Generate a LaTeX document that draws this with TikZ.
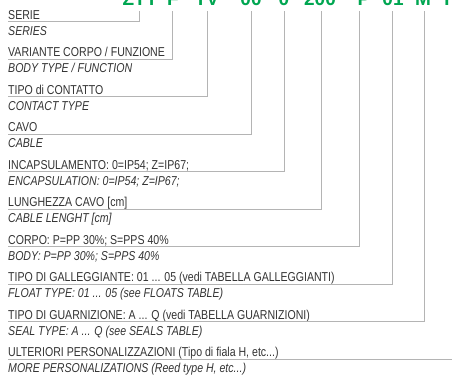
\documentclass[tikz,border=0pt]{standalone}
\usepackage{fontspec}
\setmainfont{Liberation Sans}[FakeStretch=0.82]
\newfontfamily\codefont{Liberation Sans}
\usetikzlibrary{positioning}
\definecolor{codegreen}{HTML}{00A651}
\definecolor{labelgray}{HTML}{333333}
\definecolor{linegray}{HTML}{B4B4B4}

\begin{document}
\begin{tikzpicture}[x=1pt, y=-1pt,
  it/.style={anchor=south west, inner xsep=0pt, inner ysep=2.5pt, text depth=0pt,
    text=labelgray, font=\fontsize{12.9}{14}\selectfont},
  en/.style={anchor=base west, inner sep=0pt, text=labelgray,
    font=\fontsize{12.9}{14}\selectfont\itshape},
  code/.style={anchor=base, inner xsep=0pt, inner ysep=6pt, text depth=0pt,
    text=codegreen, font=\codefont\bfseries\fontsize{19}{20}\selectfont},
  conn/.style={draw=linegray, line width=0.9pt}]
  \useasboundingbox (0,0) rectangle (452,378);

  % code on top (cut by the page edge)
  \node[code] (cSerie) at (140,5) {ZTT};
  \node[code] (cBody)  at (173,5) {F};
  \node[code] (cCont)  at (207,5) {TV};
  \node[code] (cCavo)  at (251,5) {00};
  \node[code] (cEnc)   at (284,5) {0};
  \node[code] (cLen)   at (320,5) {200};
  \node[code] (cCorpo) at (364,5) {P};
  \node[code] (cFloat) at (393,5) {01};
  \node[code] (cSeal)  at (423,5) {M};
  \node[code] (cMore)  at (447,5) {T};

  \node[it] (serie) at (8,21.7) {SERIE};
  \node[en] (serieEN) at ([yshift=-16pt]serie.base west) {SERIES};
  \node[it] (body) at (8,59.2) {VARIANTE CORPO / FUNZIONE};
  \node[en] (bodyEN) at ([yshift=-16pt]body.base west) {BODY TYPE / FUNCTION};
  \node[it] (cont) at (8,96.7) {TIPO di CONTATTO};
  \node[en] (contEN) at ([yshift=-16pt]cont.base west) {CONTACT TYPE};
  \node[it] (cavo) at (8,134.2) {CAVO};
  \node[en] (cavoEN) at ([yshift=-16pt]cavo.base west) {CABLE};
  \node[it] (enc) at (8,171.7) {INCAPSULAMENTO: 0=IP54; Z=IP67;};
  \node[en] (encEN) at ([yshift=-16pt]enc.base west) {ENCAPSULATION: 0=IP54; Z=IP67;};
  \node[it] (len) at (8,209.2) {LUNGHEZZA CAVO [cm]};
  \node[en] (lenEN) at ([yshift=-16pt]len.base west) {CABLE LENGHT [cm]};
  \node[it] (corpo) at (8,246.7) {CORPO: P=PP 30\%; S=PPS 40\%};
  \node[en] (corpoEN) at ([yshift=-16pt]corpo.base west) {BODY: P=PP 30\%; S=PPS 40\%};
  \node[it] (float) at (8,284.2) {TIPO DI GALLEGGIANTE: 01 ... 05 (vedi TABELLA GALLEGGIANTI)};
  \node[en] (floatEN) at ([yshift=-16pt]float.base west) {FLOAT TYPE: 01 ... 05 (see FLOATS TABLE)};
  \node[it] (seal) at (8,321.7) {TIPO DI GUARNIZIONE: A ... Q (vedi TABELLA GUARNIZIONI)};
  \node[en] (sealEN) at ([yshift=-16pt]seal.base west) {SEAL TYPE: A ... Q (see SEALS TABLE)};
  \node[it] (more) at (8,359.2) {ULTERIORI PERSONALIZZAZIONI (Tipo di fiala H, etc...)};
  \node[en] (moreEN) at ([yshift=-16pt]more.base west) {MORE PERSONALIZATIONS (Reed type H, etc...)};

  \coordinate (rim) at (452,359.2);

  \draw[conn] (serie.south west) -| ([xshift=-1pt]cSerie.south);
  \draw[conn] (body.south west) -| ([xshift=-1pt]cBody.south);
  \draw[conn] (cont.south west) -| (cCont.south);
  \draw[conn] (cavo.south west) -| (cCavo.south);
  \draw[conn] (enc.south west) -| (cEnc.south);
  \draw[conn] (len.south west) -| ([xshift=1pt]cLen.south);
  \draw[conn] (corpo.south west) -| ([xshift=-5pt]cCorpo.south);
  \draw[conn] (float.south west) -| ([xshift=-1pt]cFloat.south);
  \draw[conn] (seal.south west) -| ([xshift=1pt]cSeal.south);
  \draw[conn] (more.south west) -- (rim);
\end{tikzpicture}
\end{document}
